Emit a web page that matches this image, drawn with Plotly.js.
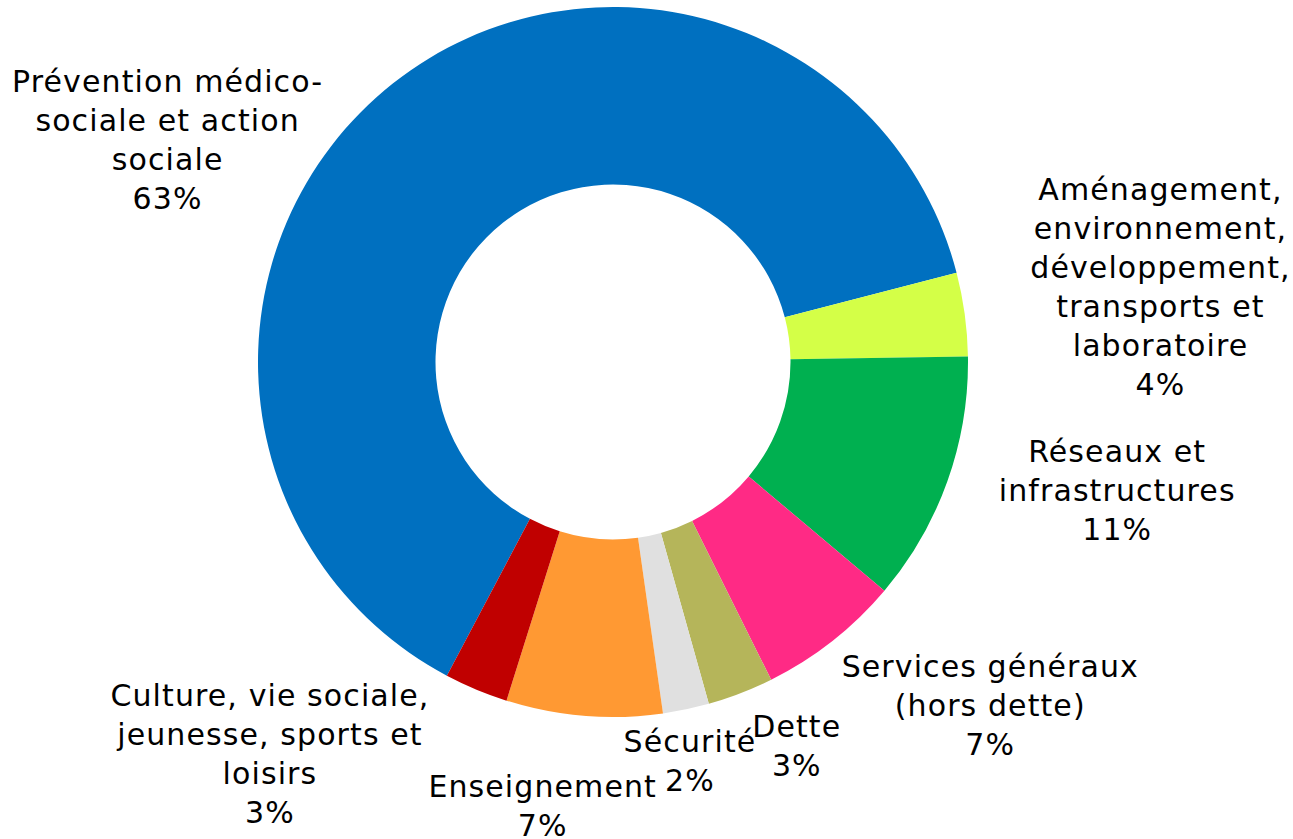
<!DOCTYPE html>
<html>
<head>
<meta charset="utf-8">
<script src="https://cdn.plot.ly/plotly-3.0.1.min.js"></script>
<style>
html,body{margin:0;padding:0;background:#fff;}
#chart{width:1293px;height:839px;}
#chart .annotation-text{letter-spacing:1.1px;}
</style>
</head>
<body>
<div id="chart"></div>
<script>
var categories = [
  "Prévention médico-<br>sociale et action<br>sociale",
  "Aménagement,<br>environnement,<br>développement,<br>transports et<br>laboratoire",
  "Réseaux et<br>infrastructures",
  "Services généraux<br>(hors dette)",
  "Dette",
  "Sécurité",
  "Enseignement",
  "Culture, vie sociale,<br>jeunesse, sports et<br>loisirs"
];
var values = [63.2, 3.8, 11.4, 6.5, 3.0, 2.1, 7.1, 2.9];
var colors = ["#0070C0", "#D4FF47", "#00B050", "#FF2A85", "#B5B55A", "#E0E0E0", "#FF9933", "#C00000"];

// label centre positions in pixels (x, y from top)
var labelPos = [
  [167, 140], [1160, 287], [1117, 490], [990, 705],
  [797, 746], [690, 761], [543, 806], [270, 754]
];

var W = 1293, H = 839;
var cx = 613, cy = 362, R = 355;

var total = values.reduce(function(a, b) { return a + b; }, 0);
var annotations = categories.map(function(c, i) {
  var pct = Math.round(values[i] / total * 100);
  return {
    text: c + "<br>" + pct + "%",
    xref: "paper", yref: "paper",
    x: labelPos[i][0] / W, y: 1 - labelPos[i][1] / H,
    xanchor: "center", yanchor: "middle",
    showarrow: false, align: "center",
    font: {family: "DejaVu Sans, Verdana, sans-serif", size: 30, color: "#000000"}
  };
});

var trace = {
  type: "pie",
  labels: categories,
  values: values,
  sort: false,
  direction: "clockwise",
  rotation: 207.9,
  hole: 0.5,
  textinfo: "none",
  marker: {colors: colors, line: {width: 0}},
  domain: {
    x: [(cx - R) / W, (cx + R) / W],
    y: [1 - (cy + R) / H, 1 - (cy - R) / H]
  },
  showlegend: false,
  hoverinfo: "label+percent"
};

var layout = {
  width: W, height: H,
  margin: {l: 0, r: 0, t: 0, b: 0},
  paper_bgcolor: "#ffffff",
  plot_bgcolor: "#ffffff",
  showlegend: false,
  annotations: annotations
};

Plotly.newPlot("chart", [trace], layout, {displayModeBar: false, staticPlot: true});
</script>
</body>
</html>
